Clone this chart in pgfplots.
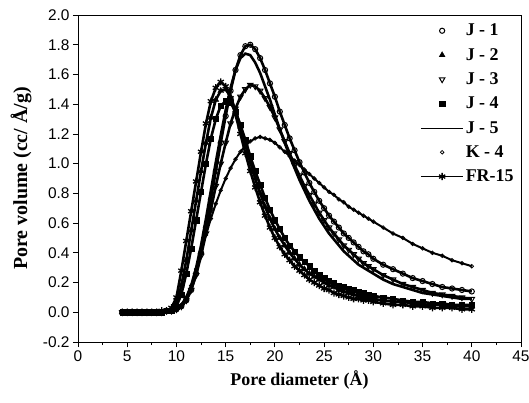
\documentclass[border=0pt]{standalone}
\usepackage{fontspec}
\setmainfont{Liberation Serif}
\setsansfont{Liberation Sans}
\usepackage{pgfplots}
\pgfplotsset{compat=1.18}

% pore size distributions: x = pore diameter (A), columns = samples
\pgfplotstableread{
x    J1   J2   J3   J4   J5   K4   FR15
4.5  0.00 0.00 0.00 0.00 0.00 0.00 0.00
5.0  0.00 0.00 0.00 0.00 0.00 0.00 0.00
5.5  0.00 0.00 0.00 0.00 0.00 0.00 0.00
6.0  0.00 0.00 0.00 0.00 0.00 0.00 0.00
6.5  0.00 0.00 0.00 0.00 0.00 0.00 0.00
7.0  0.00 0.00 0.00 0.00 0.00 0.00 0.00
7.5  0.00 0.00 0.00 0.00 0.00 0.00 0.00
8.0  0.00 0.00 0.00 0.00 0.00 0.00 0.00
8.5  0.00 0.00 0.00 0.00 0.00 0.00 0.01
9.0  0.01 0.01 0.01 0.01 0.01 0.01 0.01
9.5  0.01 0.02 0.01 0.01 0.01 0.01 0.03
10   0.02 0.06 0.02 0.04 0.02 0.02 0.10
10.5 0.04 0.18 0.04 0.12 0.05 0.05 0.28
11   0.08 0.35 0.08 0.26 0.10 0.10 0.48
11.5 0.15 0.55 0.15 0.43 0.18 0.18 0.68
12   0.26 0.75 0.25 0.62 0.30 0.29 0.88
12.5 0.40 0.95 0.38 0.81 0.45 0.41 1.08
13   0.57 1.14 0.53 1.00 0.63 0.52 1.27
13.5 0.76 1.31 0.69 1.17 0.82 0.63 1.42
14   0.95 1.43 0.85 1.30 1.01 0.73 1.51
14.5 1.14 1.49 1.00 1.39 1.19 0.82 1.55
15   1.32 1.50 1.14 1.42 1.36 0.90 1.52
15.5 1.49 1.45 1.27 1.41 1.51 0.97 1.44
16   1.63 1.36 1.37 1.35 1.63 1.03 1.33
16.5 1.73 1.25 1.45 1.26 1.71 1.08 1.20
17   1.79 1.13 1.50 1.16 1.74 1.12 1.07
17.5 1.80 1.01 1.53 1.05 1.73 1.15 0.95
18   1.77 0.90 1.52 0.95 1.68 1.17 0.84
18.5 1.71 0.80 1.49 0.86 1.61 1.18 0.74
19   1.63 0.71 1.44 0.77 1.52 1.17 0.65
19.5 1.54 0.63 1.38 0.69 1.43 1.16 0.57
20   1.45 0.56 1.31 0.62 1.33 1.14 0.50
20.5 1.35 0.50 1.23 0.56 1.23 1.11 0.44
21   1.26 0.45 1.15 0.50 1.14 1.08 0.39
21.5 1.17 0.40 1.07 0.45 1.05 1.05 0.35
22   1.09 0.36 0.99 0.41 0.97 1.02 0.31
22.5 1.01 0.32 0.92 0.37 0.89 0.99 0.28
23   0.94 0.29 0.85 0.34 0.82 0.96 0.25
23.5 0.87 0.26 0.79 0.31 0.75 0.93 0.22
24   0.81 0.24 0.73 0.28 0.69 0.90 0.20
24.5 0.75 0.22 0.67 0.25 0.63 0.87 0.18
25   0.70 0.20 0.62 0.23 0.58 0.84 0.16
25.5 0.65 0.18 0.57 0.21 0.53 0.81 0.15
26   0.61 0.17 0.53 0.20 0.49 0.79 0.13
26.5 0.57 0.15 0.49 0.18 0.45 0.76 0.12
27   0.53 0.14 0.45 0.17 0.41 0.74 0.11
27.5 0.50 0.13 0.42 0.16 0.38 0.71 0.10
28   0.47 0.12 0.39 0.15 0.35 0.69 0.09
28.5 0.44 0.11 0.36 0.14 0.32 0.67 0.09
29   0.41 0.10 0.33 0.13 0.30 0.65 0.08
29.5 0.39 0.10 0.31 0.12 0.28 0.63 0.08
30   0.36 0.09 0.29 0.11 0.26 0.61 0.07
31   0.32 0.08 0.25 0.10 0.22 0.57 0.06
32   0.29 0.07 0.22 0.09 0.19 0.53 0.05
33   0.26 0.07 0.19 0.08 0.17 0.50 0.05
34   0.23 0.06 0.17 0.07 0.15 0.46 0.04
35   0.21 0.05 0.15 0.07 0.13 0.43 0.04
36   0.19 0.05 0.13 0.06 0.12 0.40 0.03
37   0.17 0.05 0.12 0.06 0.11 0.38 0.03
38   0.16 0.04 0.11 0.05 0.10 0.35 0.03
39   0.15 0.04 0.10 0.05 0.09 0.33 0.02
40   0.14 0.04 0.09 0.05 0.09 0.31 0.02
}\psd

\begin{document}
\begin{tikzpicture}
\useasboundingbox (-78bp,-61bp) rectangle (451bp,342bp);
\begin{axis}[
    scale only axis,
    width=443bp, height=327bp,
    xmin=0, xmax=45, ymin=-0.2, ymax=2.0,
    xtick={0,5,...,45},
    ytick={-0.2,0,0.2,...,2.01},
    minor x tick num=1, minor y tick num=1,
    tick pos=left, tick align=outside,
    major tick length=5bp, minor tick length=3bp,
    axis line style={line width=0.9pt},
    every tick/.style={black, line width=0.8pt},
    y tick label style={/pgf/number format/.cd, fixed, fixed zerofill, precision=1},
    /pgf/number format/assume math mode=true,
    tick label style={font=\sffamily\fontsize{15.5}{15.5}\selectfont},
    xlabel={Pore diameter (Å)},
    ylabel={Pore volume (cc/ Å/g)},
    every axis y label/.style={at={(axis description cs:0,0.5)},
        xshift=-57bp, rotate=90, anchor=center,
        font=\bfseries\fontsize{20}{20}\selectfont},
    every axis x label/.style={at={(axis description cs:0.5,0)},
        yshift=-38bp, anchor=center,
        font=\bfseries\fontsize{18}{18}\selectfont},
    legend style={at={(0.995,0.985)}, anchor=north east, draw=none, fill=none,
        font=\bfseries\fontsize{18}{19}\selectfont, row sep=7bp,
        cells={anchor=west}},
    legend image code/.code={\draw[mark repeat=2,mark phase=2,#1]
        plot coordinates {(0cm,0cm) (0.75cm,0cm) (1.5cm,0cm)};},
]
% thick curves
\addplot[black, line width=2.6pt, forget plot] table[y=J2] {\psd};
\addplot[black, line width=2.6pt, forget plot] table[y=J4] {\psd};
\addplot[black, line width=2.6pt, forget plot] table[y=FR15] {\psd};
\addplot[black, line width=2.6pt, forget plot] table[y=J1] {\psd};
\addplot[black, line width=2.6pt, forget plot] table[y=J3] {\psd};
\addplot[black, line width=2.6pt, forget plot] table[y=J5] {\psd};
\addplot[black, line width=2.0pt, forget plot] table[y=K4] {\psd};
% markers with legend
\addplot[black, only marks, mark=o, mark size=2.6pt, mark options={fill=white, line width=1pt}] table[y=J1] {\psd};
\addplot[black, only marks, mark=triangle*, mark size=3.4pt] table[y=J2] {\psd};
\addplot[black, only marks, mark=triangle, mark size=3.2pt, mark options={rotate=180, fill=white, line width=1pt}] table[y=J3] {\psd};
\addplot[black, only marks, mark=square*, mark size=2.6pt] table[y=J4] {\psd};
\addplot[black, line width=0.6pt] table[y=J5] {\psd};
\addplot[black, only marks, mark=o, mark size=1.8pt, mark options={fill=white, line width=0.8pt}] table[y=K4] {\psd};
\addplot[black, line width=0.8pt, mark=asterisk, mark size=3.6pt, mark options={line width=1.3pt}] table[y=FR15] {\psd};
\legend{J - 1, J - 2, J - 3, J - 4, J - 5, K - 4, FR-15}
\end{axis}
\end{tikzpicture}
\end{document}
